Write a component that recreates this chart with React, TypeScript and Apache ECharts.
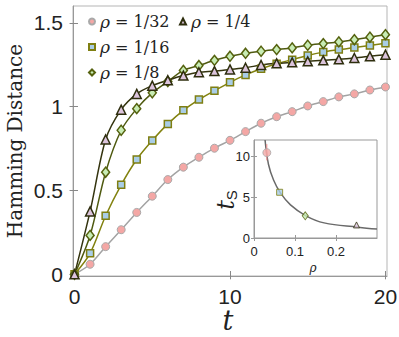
import React, { useEffect, useRef } from "react";
import * as echarts from "echarts";

const TIMES = [0, 1, 2, 3, 4, 5, 6, 7, 8, 9, 10, 11, 12, 13, 14, 15, 16, 17, 18, 19, 20];
const RHO_1_32 = [0, 0.06, 0.165, 0.266, 0.369, 0.466, 0.565, 0.639, 0.698, 0.752, 0.799, 0.851, 0.901, 0.94, 0.97, 1.004, 1.03, 1.058, 1.076, 1.099, 1.117];
const RHO_1_16 = [0, 0.125, 0.349, 0.534, 0.685, 0.798, 0.897, 0.978, 1.042, 1.095, 1.145, 1.189, 1.226, 1.256, 1.28, 1.305, 1.325, 1.34, 1.352, 1.365, 1.378];
const RHO_1_8 = [0, 0.232, 0.609, 0.859, 0.988, 1.082, 1.15, 1.216, 1.245, 1.276, 1.3, 1.318, 1.33, 1.34, 1.35, 1.366, 1.376, 1.386, 1.399, 1.414, 1.429];
const RHO_1_4 = [0, 0.375, 0.804, 0.982, 1.076, 1.125, 1.157, 1.185, 1.205, 1.212, 1.222, 1.232, 1.248, 1.258, 1.264, 1.27, 1.276, 1.282, 1.29, 1.3, 1.31];

const MAIN_X_TICKS = [0, 10, 20];
const MAIN_Y_TICKS = [0, 0.5, 1, 1.5];

// inset: saturation time vs rho
const INSET_RHO = [1 / 32, 1 / 16, 1 / 8, 1 / 4];
const INSET_TS = [10.45, 5.6, 2.72, 1.6];
const INSET_ERR_LOW = 9.5;
const INSET_ERR_HIGH = 11.5;
const FIT_RHO = [0.027, 0.0354, 0.0477, 0.064, 0.089, 0.1255, 0.171, 0.254, 0.3];
const FIT_TS = [12, 9.0, 7.1, 5.55, 4.05, 2.75, 1.85, 1.33, 1.1];
const INSET_X_TICKS = [0, 0.1, 0.2];
const INSET_Y_TICKS = [0, 5, 10];

const SERIF = "DejaVu Serif";
const SANS = "Liberation Sans";

const STYLES = [
  { name: "1/32", data: RHO_1_32, symbol: "circle", size: 8, fill: "#f4a7a5", edge: "#a9a9a9", line: "#a3a3a3", bw: 1 },
  { name: "1/16", data: RHO_1_16, symbol: "rect", size: 7, fill: "#a9cde6", edge: "#7f7f12", line: "#82820f", bw: 1.5 },
  { name: "1/8", data: RHO_1_8, symbol: "diamond", size: [8, 10], fill: "#c8ecb4", edge: "#55620f", line: "#4f5a10", bw: 1.5 },
  { name: "1/4", data: RHO_1_4, symbol: "triangle", size: 9, fill: "#dcc4dc", edge: "#2e2e0e", line: "#34340f", bw: 1.5 },
];

export default function App() {
  const ref = useRef<HTMLDivElement>(null);
  useEffect(() => {
    document.body.style.margin = "0";
    if (!ref.current) return;
    const chart = echarts.init(ref.current, null, { renderer: "svg" });

    const mainSeries = STYLES.map((s) => ({
      name: s.name,
      type: "line",
      xAxisIndex: 0,
      yAxisIndex: 0,
      smooth: 0.3,
      data: TIMES.map((t, i) => [t, s.data[i]]),
      symbol: s.symbol,
      symbolSize: s.size,
      showAllSymbol: true,
      lineStyle: { color: s.line, width: 1.5 },
      itemStyle: { color: s.fill, borderColor: s.edge, borderWidth: s.bw },
      z: 2,
    }));

    const insetMarkers = STYLES.map((s, i) => ({
      name: "inset" + s.name,
      type: "scatter",
      xAxisIndex: 1,
      yAxisIndex: 1,
      data: [[INSET_RHO[i], INSET_TS[i]]],
      symbol: s.symbol,
      symbolSize: Array.isArray(s.size) ? [6, 8] : i === 0 ? 8 : 6,
      itemStyle: { color: s.fill, borderColor: s.edge, borderWidth: 1 },
      z: 14,
    }));

    const tickStyle = { inside: true, length: 5, lineStyle: { color: "#888" } };
    const labelMain = { fontFamily: SANS, fontSize: 21, color: "#222" };
    const labelInset = { fontFamily: SANS, fontSize: 13, color: "#222" };

    const legendText = {
      fontFamily: SERIF,
      fontSize: 16,
      color: "#222",
      lineHeight: 17,
      rich: { r: { fontFamily: SERIF, fontStyle: "italic", fontSize: 17, color: "#222" } },
    };

    chart.setOption({
      animation: false,
      backgroundColor: "#fff",
      grid: [
        { left: 73, right: 12, top: 6, bottom: 61, show: true, borderColor: "#b5b5b5", borderWidth: 1, outerBoundsMode: "none" },
        { left: 254, top: 140, width: 123, height: 98, show: true, backgroundColor: "#fff", borderColor: "#999", borderWidth: 1, z: 10, outerBoundsMode: "none" },
      ],
      legend: [
        {
          data: [
            { name: "1/32", icon: "circle" },
            { name: "1/16", icon: "rect" },
            { name: "1/8", icon: "diamond" },
          ],
          orient: "vertical",
          left: 83,
          top: 8,
          itemWidth: 6,
          itemHeight: 6,
          itemGap: 8.5,
          textStyle: legendText,
          formatter: (n: string) => `{r|ρ} = ${n}`,
        },
        {
          data: [{ name: "1/4", icon: "triangle" }],
          orient: "vertical",
          left: 174,
          top: 8,
          itemWidth: 6,
          itemHeight: 6,
          textStyle: legendText,
          formatter: (n: string) => `{r|ρ} = ${n}`,
        },
      ],
      xAxis: [
        {
          type: "value", gridIndex: 0, min: -0.1, max: 20.1, position: "bottom",
          splitLine: { show: false },
          axisLine: { show: true, onZero: false, lineStyle: { color: "#999" } },
          axisTick: { ...tickStyle, customValues: MAIN_X_TICKS },
          axisLabel: { ...labelMain, margin: 11, lineHeight: 18, customValues: MAIN_X_TICKS },
        },
        {
          type: "value", gridIndex: 1, min: 0, max: 0.3, position: "bottom", z: 11,
          splitLine: { show: false },
          axisLine: { show: true, onZero: false, lineStyle: { color: "#999" } },
          axisTick: { inside: true, length: 3, lineStyle: { color: "#999" }, customValues: INSET_X_TICKS },
          axisLabel: { ...labelInset, margin: 7, customValues: INSET_X_TICKS, formatter: (v: number) => (v === 0 ? "0" : v.toFixed(1)) },
        },
        {
          type: "value", gridIndex: 0, min: -0.1, max: 20.1, position: "top",
          splitLine: { show: false },
          axisLine: { show: false },
          axisTick: { ...tickStyle, customValues: MAIN_X_TICKS },
          axisLabel: { show: false },
        },
        {
          type: "value", gridIndex: 1, min: 0, max: 0.3, position: "top", z: 11,
          splitLine: { show: false },
          axisLine: { show: false },
          axisTick: { inside: true, length: 3, lineStyle: { color: "#999" }, customValues: INSET_X_TICKS },
          axisLabel: { show: false },
        },
      ],
      yAxis: [
        {
          type: "value", gridIndex: 0, min: -0.01, max: 1.6, position: "left",
          splitLine: { show: false },
          axisLine: { show: true, onZero: false, lineStyle: { color: "#999" } },
          axisTick: { ...tickStyle, customValues: MAIN_Y_TICKS },
          axisLabel: { ...labelMain, margin: 10, customValues: MAIN_Y_TICKS, formatter: (v: number) => String(v) },
        },
        {
          type: "value", gridIndex: 1, min: 0, max: 12, position: "left", z: 11,
          splitLine: { show: false },
          axisLine: { show: true, onZero: false, lineStyle: { color: "#999" } },
          axisTick: { inside: true, length: 3, lineStyle: { color: "#999" }, customValues: INSET_Y_TICKS },
          axisLabel: { ...labelInset, margin: 4, customValues: INSET_Y_TICKS },
        },
        {
          type: "value", gridIndex: 0, min: -0.01, max: 1.6, position: "right",
          splitLine: { show: false },
          axisLine: { show: false },
          axisTick: { ...tickStyle, customValues: MAIN_Y_TICKS },
          axisLabel: { show: false },
        },
        {
          type: "value", gridIndex: 1, min: 0, max: 12, position: "right", z: 11,
          splitLine: { show: false },
          axisLine: { show: false },
          axisTick: { inside: true, length: 3, lineStyle: { color: "#999" }, customValues: INSET_Y_TICKS },
          axisLabel: { show: false },
        },
      ],
      series: [
        ...mainSeries,
        {
          name: "fit",
          type: "line",
          xAxisIndex: 1,
          yAxisIndex: 1,
          smooth: 0.4,
          symbol: "none",
          data: FIT_RHO.map((r, i) => [r, FIT_TS[i]]),
          lineStyle: { color: "#6a6a6a", width: 1.5 },
          z: 12,
        },
        {
          name: "errorbar",
          type: "line",
          xAxisIndex: 1,
          yAxisIndex: 1,
          symbol: "none",
          data: [[INSET_RHO[0], INSET_ERR_LOW], [INSET_RHO[0], INSET_ERR_HIGH]],
          lineStyle: { color: "#f28c8c", width: 1 },
          z: 13,
        },
        ...insetMarkers,
      ],
      graphic: [
        {
          type: "text", x: 15, y: 141, rotation: Math.PI / 2, z: 20,
          style: { text: "Hamming Distance", fontFamily: SERIF, fontSize: 20, fill: "#222", align: "center", verticalAlign: "middle" },
        },
        {
          type: "text", x: 228, y: 320, z: 20,
          style: { text: "t", fontFamily: SERIF, fontStyle: "italic", fontSize: 27, lineHeight: 20, fill: "#222", align: "center", verticalAlign: "middle" },
        },
        {
          type: "text", x: 313, y: 268, z: 20,
          style: { text: "ρ", fontFamily: SERIF, fontStyle: "italic", fontSize: 12, fill: "#222", align: "center", verticalAlign: "middle" },
        },
        {
          type: "text", x: 226, y: 200, rotation: Math.PI / 2, z: 20,
          style: {
            text: "{t|t}{s|S}",
            align: "center",
            verticalAlign: "middle",
            rich: {
              t: { fontFamily: SERIF, fontStyle: "italic", fontSize: 24, fill: "#222", color: "#222" },
              s: { fontFamily: SANS, fontSize: 15, fill: "#222", color: "#222", padding: [10, 0, 0, 0] },
            },
          },
        },
      ],
    });
    return () => chart.dispose();
  }, []);
  return <div ref={ref} style={{ width: 399, height: 337 }} />;
}
